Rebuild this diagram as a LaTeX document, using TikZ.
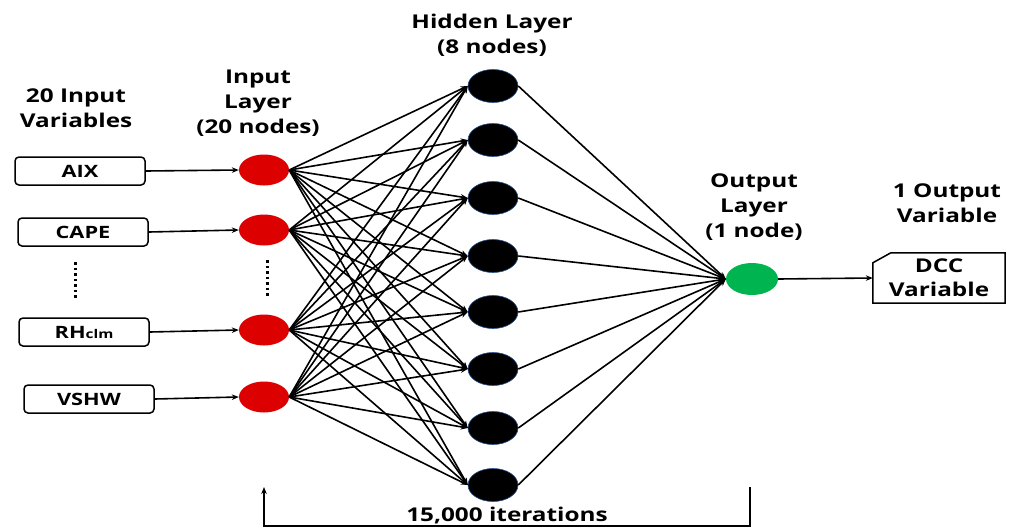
\documentclass[tikz,border=0pt]{standalone}
\usepackage{fontspec}
\setmainfont{Open Sans}[BoldFont={* Bold},FakeStretch=1.28]
\usetikzlibrary{shapes.geometric,arrows.meta}
\begin{document}
\begin{tikzpicture}[x=1pt,y=-1pt,
  lbl/.style={font=\bfseries\fontsize{19}{25}\selectfont,align=center,inner sep=0pt},
  inbox/.style={draw,rounded corners=4pt,line width=1.5pt,minimum width=130pt,minimum height=28pt,font=\bfseries\fontsize{17}{20}\selectfont,inner sep=0pt},
  innode/.style={ellipse,fill={rgb,255:red,220;green,0;blue,0},minimum width=50pt,minimum height=31pt,inner sep=0pt},
  hidnode/.style={ellipse,fill=black,draw={rgb,255:red,40;green,80;blue,140},line width=0.6pt,minimum width=50pt,minimum height=33pt,inner sep=0pt},
  outnode/.style={ellipse,fill={rgb,255:red,0;green,180;blue,80},minimum width=52pt,minimum height=32pt,inner sep=0pt},
  conn/.style={line width=1.6pt,-{Stealth[length=7pt,width=5.5pt]}},
  dotline/.style={line width=3pt,dash pattern=on 2.5pt off 3pt}
]
\useasboundingbox (0,0) rectangle (1015,528);
% labels
\node[lbl] (l1) at (76,108) {20 Input\\Variables};
\node[lbl] (l2) at (258,103) {Input\\Layer\\(20 nodes)};
\node[lbl] (l3) at (492,35) {Hidden Layer\\(8 nodes)};
\node[lbl] (l4) at (754,207) {Output\\Layer\\(1 node)};
\node[lbl] (l5) at (947,203) {1 Output\\Variable};
% input boxes
\node[inbox] (b1) at (80,171) {AIX};
\node[inbox] (b2) at (83,232) {CAPE};
\node[inbox] (b3) at (84,332) {RH{\fontsize{12}{14}\selectfont clm}};
\node[inbox] (b4) at (89,399) {VSHW};
% input nodes
\node[innode] (i1) at (264,170) {};
\node[innode] (i2) at (264,230) {};
\node[innode] (i3) at (264,330) {};
\node[innode] (i4) at (264,397) {};
% dots
\coordinate (d1a) at (75,262); \coordinate (d1b) at (75,300);
\coordinate (d2a) at (267,260); \coordinate (d2b) at (267,297);
\draw[dotline] (d1a) -- (d1b);
\draw[dotline] (d2a) -- (d2b);
% hidden nodes
\foreach \j/\y in {1/86,2/140,3/198,4/256,5/312,6/369,7/428,8/485}
  \node[hidnode] (h\j) at (493,\y) {};
% output
\node[outnode] (o) at (752,279) {};
% DCC box
\node[inner sep=0pt,minimum width=132pt,minimum height=50pt,font=\bfseries\fontsize{19}{24}\selectfont,align=center] (dcc) at (939,278) {DCC\\Variable};
\draw[line width=1.5pt] ([yshift=-10pt]dcc.north west) -- ([xshift=18pt]dcc.north west) -- (dcc.north east) -- (dcc.south east) -- (dcc.south west) -- cycle;
% box arrows
\foreach \k in {1,2,3,4} \draw[conn] (b\k.east) -- (i\k.west);
% input -> hidden
\foreach \k in {1,2,3,4}
  \foreach \j in {1,...,8}
    \draw[conn] (i\k.east) -- (h\j.west);
% hidden -> output
\foreach \j in {1,...,8}
  \draw[conn] (h\j.east) -- (o.west);
\draw[conn] (o.east) -- (dcc.west);
% iterations bracket
\coordinate (ba) at (264,487);
\coordinate (bb) at (750,487);
\coordinate (bc) at (264,526);
\coordinate (bd) at (750,526);
\draw[line width=1.5pt,{Stealth[length=7pt,width=5.5pt]}-] (ba) -- (bc) -- (bd) -- (bb);
\node[lbl] (it) at (507,515) {15,000 iterations};
\end{tikzpicture}
\end{document}
